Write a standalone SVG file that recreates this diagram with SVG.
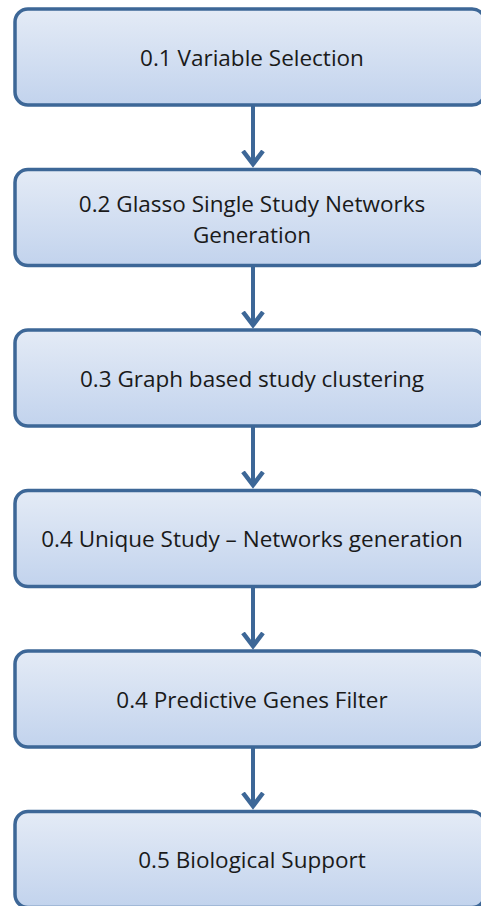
<svg xmlns="http://www.w3.org/2000/svg" width="481" height="906" viewBox="0 0 481 906">
  <style>
    .box { fill: url(#boxFill); stroke: #3d6797; stroke-width: 3.5; }
    .lbl { font-family: "Open Sans", "Liberation Sans", sans-serif; font-size: 22.5px; fill: #1a1a1a; text-anchor: middle; dominant-baseline: central; }
    .conn { stroke: #3d6797; stroke-width: 4; fill: none; marker-end: url(#head); }
  </style>
  <defs>
    <linearGradient id="boxFill" x1="0" y1="0" x2="0" y2="1">
      <stop offset="0" stop-color="#e4ebf6"/>
      <stop offset="1" stop-color="#c2d3ed"/>
    </linearGradient>
    <marker id="head" markerUnits="userSpaceOnUse" markerWidth="30" markerHeight="30" refX="15" refY="15" orient="auto">
      <polyline points="1,5 14,15 1,25" fill="none" stroke="#3d6797" stroke-width="4.5"/>
    </marker>
  </defs>

  <g id="connectors">
    <line class="conn" x1="253" y1="106" x2="253" y2="165"/>
    <line class="conn" x1="253" y1="266" x2="253" y2="326"/>
    <line class="conn" x1="253" y1="427" x2="253" y2="486"/>
    <line class="conn" x1="253" y1="587" x2="253" y2="647"/>
    <line class="conn" x1="253" y1="748" x2="253" y2="807"/>
  </g>

  <g id="step-01">
    <rect class="box" x="15" y="9" width="470" height="96" rx="13"/>
    <text class="lbl" x="252" y="57">0.1 Variable Selection</text>
  </g>
  <g id="step-02">
    <rect class="box" x="15" y="169.5" width="470" height="96" rx="13"/>
    <text class="lbl" x="252" y="203">0.2 Glasso Single Study Networks</text>
    <text class="lbl" x="252" y="234">Generation</text>
  </g>
  <g id="step-03">
    <rect class="box" x="15" y="330" width="470" height="96" rx="13"/>
    <text class="lbl" x="252" y="378">0.3 Graph based study clustering</text>
  </g>
  <g id="step-04">
    <rect class="box" x="15" y="490.5" width="470" height="96" rx="13"/>
    <text class="lbl" x="252" y="538">0.4 Unique Study – Networks generation</text>
  </g>
  <g id="step-05">
    <rect class="box" x="15" y="651" width="470" height="96" rx="13"/>
    <text class="lbl" x="252" y="699">0.4 Predictive Genes Filter</text>
  </g>
  <g id="step-06">
    <rect class="box" x="15" y="811.5" width="470" height="96" rx="13"/>
    <text class="lbl" x="252" y="859">0.5 Biological Support</text>
  </g>
</svg>
